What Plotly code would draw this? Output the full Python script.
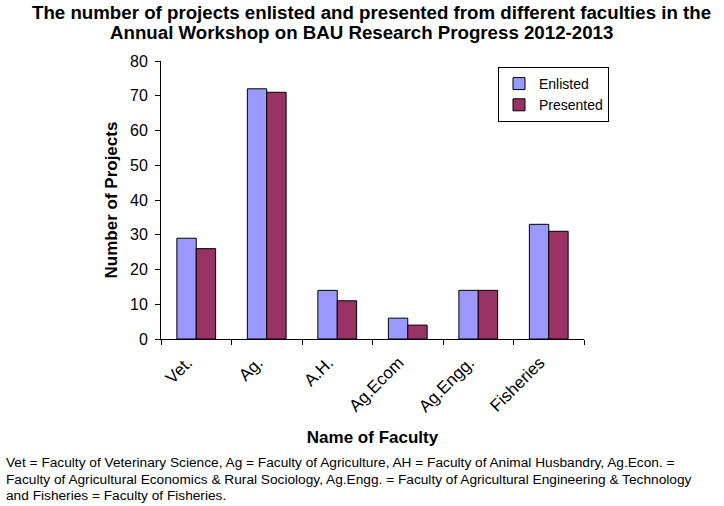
import plotly.graph_objects as go

categories = ["Vet.", "Ag.", "A.H.", "Ag.Ecom", "Ag.Engg.", "Fisheries"]
enlisted = [29, 72, 14, 6, 14, 33]
presented = [26, 71, 11, 4, 14, 31]
y_ticks = [0, 10, 20, 30, 40, 50, 60, 70, 80]

title_lines = ["The number of projects enlisted and presented from different faculties in the",
               "Annual Workshop on BAU Research Progress 2012-2013"]
caption_lines = ["Vet = Faculty of Veterinary Science, Ag = Faculty of Agriculture, AH = Faculty of Animal Husbandry, Ag.Econ. =",
                 "Faculty of Agricultural Economics &amp; Rural Sociology, Ag.Engg. = Faculty of Agricultural Engineering &amp; Technology",
                 "and Fisheries = Faculty of Fisheries."]

FONT = "Liberation Sans, Arial, sans-serif"
W, H = 724, 506
L, R, T, B = 161, 140, 61, 167
PW, PH = W - L - R, H - T - B

def px(x):
    return (x - L) / PW

def py(y):
    return (H - B - y) / PH

fig = go.Figure()
fig.add_trace(go.Bar(x=categories, y=enlisted, name="Enlisted",
                     marker=dict(color="#9999FF", line=dict(color="black", width=1))))
fig.add_trace(go.Bar(x=categories, y=presented, name="Presented",
                     marker=dict(color="#993366", line=dict(color="black", width=1))))

fig.update_layout(
    width=W, height=H,
    margin=dict(l=L, r=R, t=T, b=B),
    paper_bgcolor="white", plot_bgcolor="white",
    font=dict(family=FONT, size=14, color="black"),
    barmode="group", bargap=0.45, bargroupgap=0,
    legend=dict(x=px(498), y=py(67), xanchor="left", yanchor="top",
                bordercolor="black", borderwidth=1, bgcolor="white",
                font=dict(family=FONT, size=14), tracegroupgap=0,
                itemwidth=30),
    showlegend=True,
)
fig.update_xaxes(
    showline=True, linecolor="black", linewidth=1,
    ticks="outside", tickson="boundaries", ticklen=5, tickcolor="black",
    tickangle=-45, tickfont=dict(family=FONT, size=17),
    ticklabelshift=-9, ticklabelstandoff=6,
    title=dict(text="<b>Name of Faculty</b>", font=dict(family=FONT, size=17), standoff=15),
    showgrid=False,
)
fig.update_yaxes(
    range=[0, 80], tickvals=y_ticks, showline=True, linecolor="black", linewidth=1,
    ticks="outside", ticklen=5, tickcolor="black",
    tickfont=dict(family=FONT, size=16), ticklabelstandoff=4,
    title=dict(text="<b>Number of Projects</b>", font=dict(family=FONT, size=17), standoff=8),
    showgrid=False, zeroline=False,
)
for txt, cx, cy in zip(title_lines, [371, 361], [13, 33]):
    fig.add_annotation(text="<b>" + txt + "</b>", xref="paper", yref="paper",
                       x=px(cx), y=py(cy), xanchor="center", yanchor="middle",
                       showarrow=False, font=dict(family=FONT, size=18.7, color="black"))
for txt, cy in zip(caption_lines, [463, 479, 495]):
    fig.add_annotation(text=txt, xref="paper", yref="paper",
                       x=px(4), y=py(cy), xanchor="left", yanchor="middle",
                       align="left", showarrow=False,
                       font=dict(family=FONT, size=13.7, color="black"))

fig.write_html("out.html")
